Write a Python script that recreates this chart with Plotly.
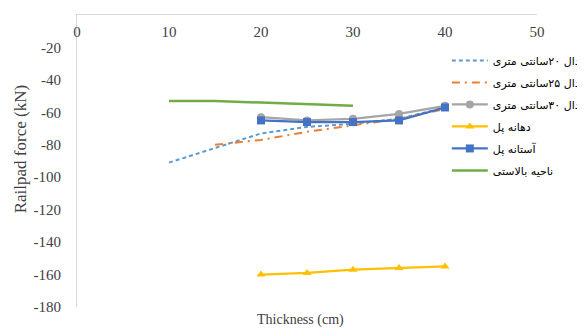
import plotly.graph_objects as go

x_d20 = [10, 20, 25, 30, 35, 40]
y_d20 = [-91, -73, -69, -67, -64, -57]
x_d25 = [15, 20, 25, 30, 35, 40]
y_d25 = [-80, -77, -72, -68, -64, -58]
x_d30 = [20, 25, 30, 35, 40]
y_d30 = [-63, -65, -64, -61, -56]
x_span = [20, 25, 30, 35, 40]
y_span = [-160, -159, -157, -156, -155]
x_abut = [20, 25, 30, 35, 40]
y_abut = [-65, -66, -66, -65, -57]
x_ball = [10, 15, 20, 25, 30]
y_ball = [-53, -53, -54, -55, -56]

names = ["دال ۲۰سانتی متری", "دال ۲۵سانتی متری", "دال ۳۰سانتی متری",
         "دهانه پل", "آستانه پل", "ناحیه بالاستی"]
x_ticks = [0, 10, 20, 30, 40, 50]
y_ticks = [0, -20, -40, -60, -80, -100, -120, -140, -160, -180]
y_tick_text = ["0", "-20", "-40", "-60", "-80", "-100", "-120", "-140", "-160", "-180"]

fig = go.Figure()
fig.add_trace(go.Scatter(x=x_d20, y=y_d20, name=names[0], legendgroup="g1", mode="lines",
                         line=dict(color="#5B9BD5", width=2, dash="4px,3px")))
fig.add_trace(go.Scatter(x=x_d25, y=y_d25, name=names[1], legendgroup="g2", mode="lines",
                         line=dict(color="#ED7D31", width=2, dash="8px,5px,2px,5px")))
fig.add_trace(go.Scatter(x=x_d30, y=y_d30, name=names[2], legendgroup="g3", mode="lines+markers",
                         line=dict(color="#A5A5A5", width=2.25),
                         marker=dict(symbol="circle", size=8, color="#A5A5A5")))
fig.add_trace(go.Scatter(x=x_span, y=y_span, name=names[3], legendgroup="g4", mode="lines+markers",
                         line=dict(color="#FFC000", width=2.25),
                         marker=dict(symbol="triangle-up", size=8, color="#FFC000")))
fig.add_trace(go.Scatter(x=x_abut, y=y_abut, name=names[4], legendgroup="g5", mode="lines+markers",
                         line=dict(color="#4472C4", width=2.25),
                         marker=dict(symbol="square", size=8, color="#4472C4")))
fig.add_trace(go.Scatter(x=x_ball, y=y_ball, name=names[5], legendgroup="g6", mode="lines",
                         line=dict(color="#70AD47", width=2.5)))
# invisible helper so the label-only x axis (labels under the top line) is drawn
fig.add_trace(go.Scatter(x=x_ticks, y=[None] * len(x_ticks), xaxis="x2", yaxis="y",
                         mode="markers", showlegend=False, hoverinfo="skip"))

font_family = "'Liberation Serif', 'Times New Roman', serif"
fig.update_layout(
    width=577, height=321,
    margin=dict(l=69, r=48, t=7, b=22, autoexpand=False),
    paper_bgcolor="white", plot_bgcolor="white",
    font=dict(family=font_family, size=15, color="#404040"),
    showlegend=True,
    legend=dict(x=0.804, y=0.894, xanchor="left", yanchor="top",
                bgcolor="rgba(0,0,0,0)", traceorder="grouped",
                font=dict(size=11, color="#000000", family="'DejaVu Sans', serif"),
                tracegroupgap=3, itemwidth=36),
    xaxis=dict(range=[0, 50], tickvals=x_ticks, side="top", showticklabels=False,
               showgrid=False, zeroline=False,
               showline=True, linecolor="#D9D9D9", linewidth=1, ticks=""),
    xaxis2=dict(range=[0, 50], tickvals=x_ticks, overlaying="x", side="bottom",
                anchor="free", position=1, showgrid=False, zeroline=False,
                showline=False, ticks="", automargin=False, ticklabelstandoff=6,
                tickfont=dict(size=15, color="#404040")),
    yaxis=dict(range=[-180, 0], tickvals=y_ticks, ticktext=y_tick_text,
               showgrid=False, zeroline=False, automargin=False,
               showline=True, linecolor="#D9D9D9", linewidth=1, ticks="",
               ticklabelstandoff=12,
               tickfont=dict(size=15, color="#404040")),
    annotations=[
        dict(text="Thickness (cm)", xref="paper", yref="paper",
             x=0.485, y=0, yshift=-3, yanchor="top", showarrow=False,
             font=dict(size=14, color="#404040")),
        dict(text="Railpad force (kN)", xref="paper", yref="paper",
             x=0, y=0.54, xshift=-57, textangle=-90, showarrow=False,
             xanchor="center", yanchor="middle",
             font=dict(size=17, color="#404040")),
    ],
)

# the browser may under-measure mixed-direction (Persian + digits) legend labels,
# so switch off the legend clip box to let the full labels show
post = """
(function () {
  var st = document.createElement('style');
  st.textContent = '.legend, .legend * { clip-path: none !important; }';
  document.head.appendChild(st);
  function unclip() {
    document.querySelectorAll('.legend [clip-path], .legend').forEach(function (e) {
      e.removeAttribute('clip-path');
    });
  }
  unclip();
  setTimeout(unclip, 50);
  setTimeout(unclip, 300);
})();
"""
fig.write_html("out.html", post_script=post)
